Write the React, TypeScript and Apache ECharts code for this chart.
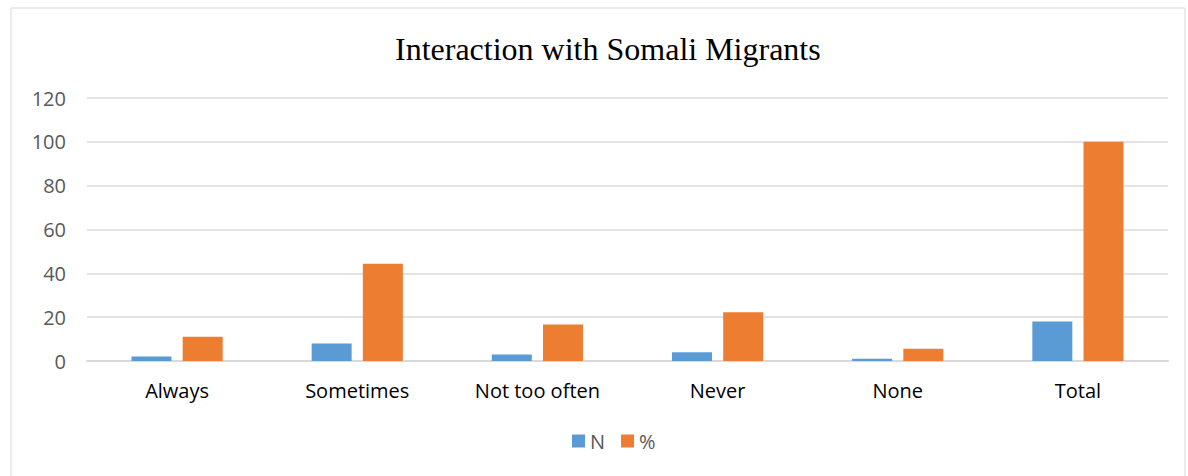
import React, { useEffect, useRef } from "react";
import * as echarts from "echarts";

const categories = ["Always", "Sometimes", "Not too often", "Never", "None", "Total"];
const nValues = [2, 8, 3, 4, 1, 18];
const pctValues = [11.1, 44.4, 16.7, 22.2, 5.6, 100];
const yTicks = { min: 0, max: 120, interval: 20 };

export default function App() {
  const ref = useRef<HTMLDivElement>(null);
  useEffect(() => {
    const chart = echarts.init(ref.current!, null, { renderer: "svg" });
    chart.setOption({
      animation: false,
      backgroundColor: "#ffffff",
      title: {
        text: "Interaction with Somali Migrants",
        left: 390,
        top: 28,
        textStyle: { fontFamily: "Liberation Serif", fontSize: 32, fontWeight: "normal", color: "#000000" },
      },
      graphic: [
        {
          type: "rect",
          shape: { x: 11, y: 8, width: 1174, height: 480 },
          style: { fill: "none", stroke: "#d9d9d9", lineWidth: 1 },
          silent: true,
        },
      ],
      legend: {
        bottom: 20,
        left: 567,
        itemWidth: 13,
        itemHeight: 13,
        itemGap: 16,
        icon: "rect",
        textStyle: { fontFamily: "Open Sans", fontSize: 20, color: "#595959" },
        data: ["N", "%"],
      },
      grid: { left: 87, right: 20, top: 98, bottom: 115 },
      xAxis: {
        type: "category",
        data: categories,
        axisLine: { lineStyle: { color: "#d9d9d9", width: 2 } },
        axisTick: { show: false },
        axisLabel: { fontFamily: "Open Sans", fontSize: 20, color: "#000000", margin: 19 },
      },
      yAxis: {
        type: "value",
        min: yTicks.min,
        max: yTicks.max,
        interval: yTicks.interval,
        axisLine: { show: false },
        axisTick: { show: false },
        splitLine: { lineStyle: { color: "#d9d9d9", width: 1.5 } },
        axisLabel: { fontFamily: "Open Sans", fontSize: 20, color: "#595959", margin: 21 },
      },
      series: [
        {
          name: "N",
          type: "bar",
          data: nValues,
          barWidth: 40,
          barGap: "28%",
          itemStyle: { color: "#5b9bd5" },
        },
        {
          name: "%",
          type: "bar",
          data: pctValues,
          barWidth: 40,
          itemStyle: { color: "#ed7d31" },
        },
      ],
    });
    return () => chart.dispose();
  }, []);
  return <div ref={ref} style={{ position: "absolute", left: 0, top: 0, width: 1188, height: 476 }} />;
}
